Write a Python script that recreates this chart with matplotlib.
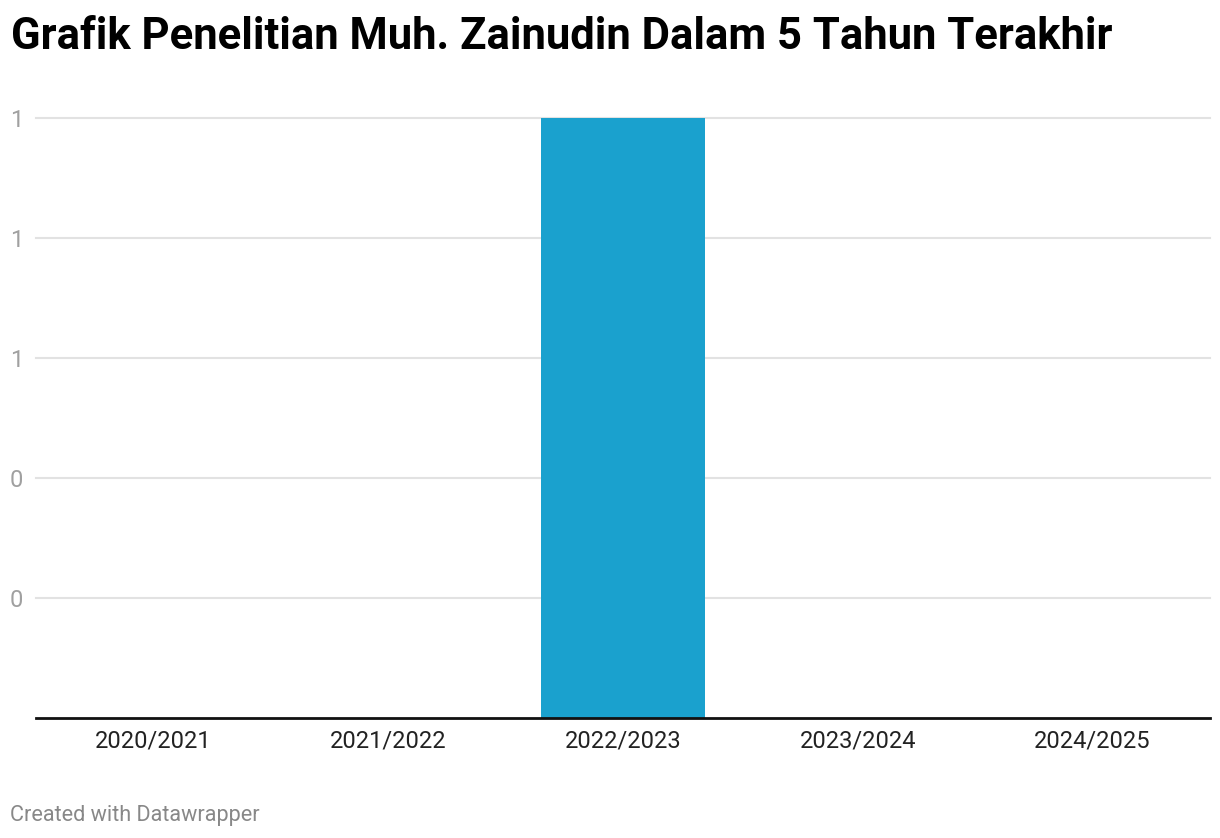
import matplotlib
matplotlib.use("Agg")
import matplotlib.pyplot as plt

plt.rcParams['font.family'] = ['Roboto', 'DejaVu Sans']

# data
categories = ["2020/2021", "2021/2022", "2022/2023", "2023/2024", "2024/2025"]
values = [0, 0, 1, 0, 0]
y_ticks = [0.2, 0.4, 0.6, 0.8, 1.0]
y_tick_labels = ["0", "0", "1", "1", "1"]

W, H = 1220, 838
fig = plt.figure(figsize=(W / 100, H / 100), dpi=100)
ax = fig.add_axes([36 / W, (H - 718) / H, 1174 / W, 600 / H])

x = range(len(categories))
ax.bar(x, values, width=0.7, color="#1aa1ce", zorder=2)

ax.set_xlim(-0.5, len(categories) - 0.5)
ax.set_ylim(0, 1.0)

ax.set_yticks(y_ticks)
ax.set_yticklabels(y_tick_labels, color="#a0a0a0", fontsize=17)
for lab in ax.get_yticklabels():
    lab.set_horizontalalignment("left")
ax.tick_params(axis="y", length=0, pad=19)
ax.grid(axis="y", color="#e2e2e2", linewidth=1.5, zorder=0)
for gl in ax.get_ygridlines():
    gl.set_clip_on(False)

ax.set_xticks(list(x))
ax.set_xticklabels(categories, fontsize=17, color="#222222")
ax.tick_params(axis="x", length=0, pad=8)

for s in ["top", "right", "left"]:
    ax.spines[s].set_visible(False)
ax.spines["bottom"].set_linewidth(2)
ax.spines["bottom"].set_color("#111111")
ax.spines["bottom"].set_zorder(3)

fig.text(11 / W, 1 - 37 / H, "Grafik Penelitian Muh. Zainudin Dalam 5 Tahun Terakhir",
         fontsize=31.4, fontweight="bold", va="center", ha="left", color="#000000")
fig.text(10 / W, 1 - 815 / H, "Created with Datawrapper",
         fontsize=15.6, color="#888888", va="center", ha="left")

fig.savefig("out.png", dpi=100)
